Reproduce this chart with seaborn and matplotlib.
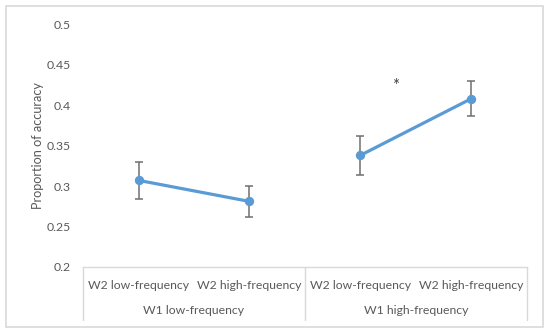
# accuracy_pointplot.py
# Proportion of accuracy by W1 / W2 word frequency, with error bars.

import numpy as np
import pandas as pd
import seaborn as sns
import matplotlib.pyplot as plt
from matplotlib.patches import Rectangle

# Data
w2_labels = ["W2 low-frequency", "W2 high-frequency",
             "W2 low-frequency", "W2 high-frequency"]
w1_labels = ["W1 low-frequency", "W1 high-frequency"]
group = ["W1 low-frequency", "W1 low-frequency",
         "W1 high-frequency", "W1 high-frequency"]
accuracy = [0.307, 0.281, 0.338, 0.408]
error = [0.023, 0.019, 0.024, 0.022]
y_ticks = [0.2, 0.25, 0.3, 0.35, 0.4, 0.45, 0.5]
tick_labels = ["0.2", "0.25", "0.3", "0.35", "0.4", "0.45", "0.5"]

df = pd.DataFrame({"pos": range(len(accuracy)), "group": group,
                   "accuracy": accuracy, "error": error})

sns.set_style("white")
plt.rcParams["font.family"] = ["Lato", "DejaVu Sans"]
text_col = "#595959"
line_col = "#d9d9d9"
blue = "#5b9bd5"
fs = 8.8

fig = plt.figure(figsize=(5.5, 3.35), dpi=100)
ax = fig.add_axes([0.151, 0.203, 0.807, 0.725])

# error bars first so the line sits on top
ax.errorbar(df["pos"], df["accuracy"], yerr=df["error"], fmt="none",
            ecolor="#6f6f6f", elinewidth=1.1, capsize=3, capthick=1.1,
            zorder=2)

sns.pointplot(data=df, x="pos", y="accuracy", hue="group",
              palette=[blue, blue], errorbar=None, markers="o",
              markersize=5, linewidth=2.3, legend=False, ax=ax, zorder=3)

ax.set_ylim(0.2, 0.5)
ax.set_xlim(-0.5, 3.5)
ax.set_yticks(y_ticks)
ax.set_yticklabels(tick_labels)
ax.tick_params(axis="y", length=0, pad=9, labelsize=fs, labelcolor=text_col)
ax.set_xticks([])
ax.set_xlabel("")
ax.set_ylabel("Proportion of accuracy", fontsize=fs + 0.3, color=text_col,
              labelpad=2)

for side in ["top", "right", "left"]:
    ax.spines[side].set_visible(False)
ax.spines["bottom"].set_color(line_col)
ax.spines["bottom"].set_linewidth(1)

# two-level category table below the axis
tr = ax.get_xaxis_transform()
for xv in [-0.5, 1.5, 3.5]:
    ax.plot([xv, xv], [0, -0.218], transform=tr, color=line_col, lw=1,
            clip_on=False)
for i, lab in enumerate(w2_labels):
    ax.text(i, -0.078, lab, transform=tr, ha="center", va="center",
            fontsize=fs, color=text_col)
for i, lab in enumerate(w1_labels):
    ax.text(0.5 + 2 * i, -0.181, lab, transform=tr, ha="center",
            va="center", fontsize=fs, color=text_col)

# significance marker
ax.text(2.32, 0.423, "*", ha="center", va="center", fontsize=12,
        color="#404040")

# chart frame
fig.patches.append(Rectangle((0.011, 0.024), 0.976, 0.958,
                             transform=fig.transFigure, fill=False,
                             edgecolor=line_col, lw=1.2))

plt.savefig("out.png", dpi=100)
plt.close()
